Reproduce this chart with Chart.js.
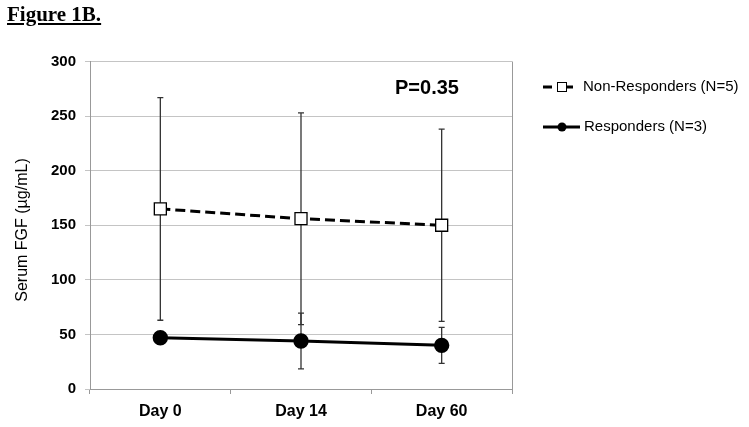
<!DOCTYPE html>
<html>
<head>
<meta charset="utf-8">
<script src="https://cdn.jsdelivr.net/npm/chart.js@4"></script>
<style>
  html, body { margin: 0; padding: 0; background: #fff; }
  #wrap { position: relative; width: 749px; height: 427px; }
  #fig {
    position: absolute; left: 7px; top: 2px;
    font: bold 21px "Liberation Serif", "Times New Roman", serif;
    text-decoration: underline; color: #000;
  }
</style>
</head>
<body>
<div id="wrap">
  <div id="fig">Figure 1B.</div>
  <canvas id="app" width="749" height="427"></canvas>
</div>
<script>
const days = ['Day 0', 'Day 14', 'Day 60']
const nonResponders = [165, 156, 150]
const nonRespondersErr = [102, 97, 88]
const responders = [47, 44, 40]
const respondersErr = [0, 25.5, 16.5]
const yTicks = [0, 50, 100, 150, 200, 250, 300]
const yTitle = 'Serum FGF (µg/mL)'
const pValueText = 'P=0.35'

const font = '"Liberation Sans", Arial, sans-serif'

const errorBars = {
  id: 'errorBars',
  beforeDatasetsDraw(chart) {
    const { ctx, scales } = chart
    const errs = [nonRespondersErr, respondersErr]
    ctx.save()
    ctx.strokeStyle = '#333'
    ctx.lineWidth = 1.3
    chart.data.datasets.forEach((ds, i) => {
      ds.data.forEach((v, j) => {
        const e = errs[i][j]
        if (!e) return
        const x = scales.x.getPixelForValue(j)
        const y1 = scales.y.getPixelForValue(v + e)
        const y2 = scales.y.getPixelForValue(v - e)
        ctx.beginPath()
        ctx.moveTo(x, y1); ctx.lineTo(x, y2)
        ctx.moveTo(x - 3, y1); ctx.lineTo(x + 3, y1)
        ctx.moveTo(x - 3, y2); ctx.lineTo(x + 3, y2)
        ctx.stroke()
      })
    })
    ctx.restore()
  }
}

const extras = {
  id: 'extras',
  afterDraw(chart) {
    const { ctx, chartArea: a } = chart
    ctx.save()
    // right border of plot box
    ctx.strokeStyle = '#999'
    ctx.lineWidth = 1
    ctx.beginPath()
    ctx.moveTo(a.right + 0.5, a.top)
    ctx.lineTo(a.right + 0.5, a.bottom + 5)
    ctx.stroke()

    // y axis title
    ctx.fillStyle = '#000'
    ctx.font = '16px ' + font
    ctx.textAlign = 'center'
    ctx.textBaseline = 'middle'
    ctx.save()
    ctx.translate(22.5, 230)
    ctx.rotate(-Math.PI / 2)
    ctx.fillText(yTitle, 0, 0)
    ctx.restore()

    // p value
    ctx.font = 'bold 20px ' + font
    ctx.textAlign = 'left'
    ctx.fillText(pValueText, 395, 88)

    // legend
    const ds = chart.data.datasets
    ctx.font = '15px ' + font
    // non-responders
    let y = 87
    ctx.strokeStyle = '#000'
    ctx.lineWidth = 3
    ctx.beginPath()
    ctx.moveTo(543, y); ctx.lineTo(552, y)
    ctx.moveTo(567, y); ctx.lineTo(573, y)
    ctx.stroke()
    ctx.lineWidth = 1
    ctx.fillStyle = '#fff'
    ctx.fillRect(557.5, y - 4.5, 9, 9)
    ctx.strokeRect(557.5, y - 4.5, 9, 9)
    ctx.fillStyle = '#000'
    ctx.fillText(ds[0].label, 583, y)
    // responders
    y = 127
    ctx.lineWidth = 3
    ctx.beginPath()
    ctx.moveTo(543, y); ctx.lineTo(580, y)
    ctx.stroke()
    ctx.beginPath()
    ctx.arc(562, y, 4.5, 0, Math.PI * 2)
    ctx.fill()
    ctx.fillText(ds[1].label, 584, y)
    ctx.restore()
  }
}

new Chart(document.getElementById('app'), {
  type: 'line',
  data: {
    labels: days,
    datasets: [
      {
        label: 'Non-Responders (N=5)',
        data: nonResponders,
        borderColor: '#000',
        borderWidth: 3,
        borderDash: [10, 5],
        pointStyle: 'rect',
        pointRadius: 8.5,
        pointBorderWidth: 1.3,
        pointBackgroundColor: '#fff',
        pointBorderColor: '#000',
        tension: 0
      },
      {
        label: 'Responders (N=3)',
        data: responders,
        borderColor: '#000',
        borderWidth: 3,
        pointStyle: 'circle',
        pointRadius: 6.2,
        pointBackgroundColor: '#000',
        pointBorderColor: '#000',
        tension: 0
      }
    ]
  },
  options: {
    responsive: false,
    animation: false,
    layout: { padding: { left: 10, top: 61.5, right: 237, bottom: 0 } },
    plugins: {
      legend: { display: false },
      tooltip: { enabled: false }
    },
    scales: {
      x: {
        offset: true,
        grid: {
          offset: true,
          drawOnChartArea: false,
          drawTicks: true,
          tickLength: 5,
          color: '#999'
        },
        border: { color: '#999' },
        ticks: {
          color: '#000',
          padding: 8,
          font: { family: font, size: 16, weight: 'bold' }
        },
        afterFit(scale) { scale.height = 38 }
      },
      y: {
        min: 0,
        max: 300,
        afterBuildTicks(scale) { scale.ticks = yTicks.map(v => ({ value: v })) },
        grid: { color: '#c4c4c4', tickLength: 5 },
        border: { color: '#999' },
        ticks: {
          color: '#000',
          padding: 9,
          font: { family: font, size: 15, weight: 'bold' }
        },
        afterFit(scale) { scale.width = 80 }
      }
    }
  },
  plugins: [errorBars, extras]
})
</script>
</body>
</html>
